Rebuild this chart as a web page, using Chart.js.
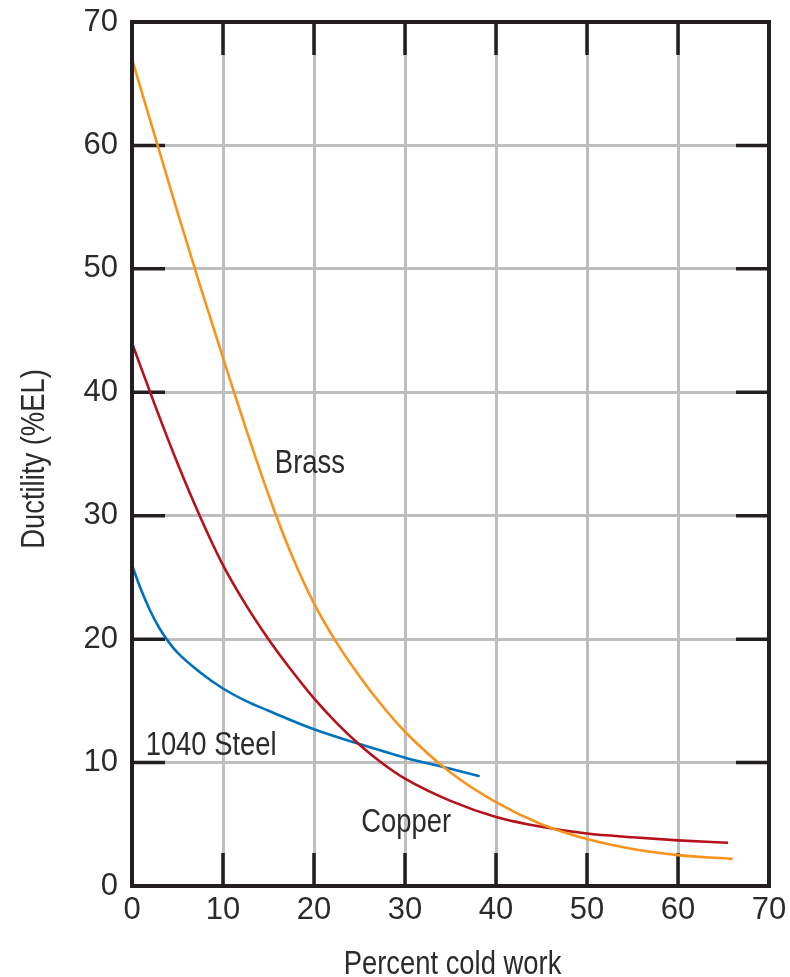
<!DOCTYPE html>
<html>
<head>
<meta charset="utf-8">
<script src="https://cdn.jsdelivr.net/npm/chart.js@4.4.1/dist/chart.umd.min.js"></script>
<style>
  html, body { margin: 0; padding: 0; background: #fff; }
  #wrap { width: 790px; height: 977px; position: relative; }
</style>
</head>
<body>
<div id="wrap"><canvas id="chart"></canvas></div>
<script>
// --- data (percent cold work vs %EL) ---
const brassX  = [0, 2.5, 5, 7.5, 10, 12.5, 15, 17.5, 20, 22.5, 25, 27.5, 30, 35, 40, 45, 50, 55, 60, 66];
const brassY  = [67, 60.8, 54.6, 48.6, 42.8, 37.1, 31.7, 26.9, 22.9, 19.7, 17.0, 14.6, 12.5, 9.2, 6.8, 5.0, 3.8, 3.0, 2.5, 2.2];
const copperX = [0, 2.5, 5, 7.5, 10, 12.5, 15, 17.5, 20, 22.5, 25, 27.5, 30, 35, 40, 45, 50, 55, 60, 65.5];
const copperY = [44, 39.0, 34.25, 29.9, 26.0, 22.8, 20.0, 17.5, 15.2, 13.2, 11.45, 9.95, 8.7, 6.9, 5.6, 4.8, 4.25, 3.95, 3.7, 3.5];
const steelX  = [0, 1, 2, 3, 4, 5, 7.5, 10, 12.5, 15, 20, 25, 30, 35, 38.2];
const steelY  = [26, 24, 22.3, 20.9, 19.8, 18.9, 17.3, 16.0, 15.0, 14.2, 12.7, 11.5, 10.4, 9.5, 8.9];

// curve labels (text, x, baseline y in data units)
const labelText = ['Brass', '1040 Steel', 'Copper'];
const labelX    = [15.7, 1.5, 25.2];
const labelY    = [33.5, 10.6, 4.4];

const xTitle = 'Percent cold work';
const yTitle = 'Ductility (%EL)';

const TEXT = '#2b2b2e';
const GRID = '#bcbec0';
const INK  = '#231f20';
const REG = '"Liberation Sans", Arial, sans-serif';
const SQUEEZE = 0.83;   // condensed look of the printed typeface

const toPts = (xs, ys) => xs.map((x, i) => ({ x: x, y: ys[i] }));

function narrowText(ctx, text, x, y, align) {
  ctx.save();
  ctx.translate(x, y);
  ctx.scale(SQUEEZE, 1);
  ctx.textAlign = align;
  ctx.fillText(text, 0, 0);
  ctx.restore();
}

// black inner tick marks + heavy frame, like the printed figure
const framePlugin = {
  id: 'frame',
  beforeDatasetsDraw(chart) {
    const { ctx, chartArea: a, scales: { x, y } } = chart;
    const len = 33;
    ctx.save();
    ctx.strokeStyle = INK;
    ctx.lineWidth = 3.5;
    ctx.beginPath();
    for (let v = 10; v < 70; v += 10) {
      const py = y.getPixelForValue(v);
      ctx.moveTo(a.left, py); ctx.lineTo(a.left + len, py);
      ctx.moveTo(a.right - len, py); ctx.lineTo(a.right, py);
      const px = x.getPixelForValue(v);
      ctx.moveTo(px, a.top); ctx.lineTo(px, a.top + len);
      ctx.moveTo(px, a.bottom - len); ctx.lineTo(px, a.bottom);
    }
    ctx.stroke();
    ctx.restore();
  },
  afterDatasetsDraw(chart) {
    const { ctx, chartArea: a } = chart;
    ctx.save();
    ctx.strokeStyle = INK;
    ctx.lineWidth = 4;
    ctx.strokeRect(a.left, a.top, a.right - a.left, a.bottom - a.top);
    ctx.restore();
  },
  afterDraw(chart) {
    const { ctx, chartArea: a, scales: { x, y } } = chart;
    ctx.save();
    ctx.fillStyle = TEXT;
    ctx.font = '33px ' + REG;
    ctx.textBaseline = 'alphabetic';
    labelText.forEach((t, i) => {
      narrowText(ctx, t, x.getPixelForValue(labelX[i]), y.getPixelForValue(labelY[i]), 'left');
    });
    // axis titles
    narrowText(ctx, xTitle, (a.left + a.right) / 2 + 2, 974, 'center');
    ctx.save();
    ctx.translate(44, (a.top + a.bottom) / 2 + 5);
    ctx.rotate(-Math.PI / 2);
    narrowText(ctx, yTitle, 0, 0, 'center');
    ctx.restore();
    ctx.restore();
  }
};

const tickFont = { family: REG, size: 31 };

function noPad(s) {
  s.paddingTop = 0; s.paddingBottom = 0; s.paddingLeft = 0; s.paddingRight = 0;
}

new Chart(document.getElementById('chart'), {
  type: 'line',
  data: {
    datasets: [
      { label: 'Brass', data: toPts(brassX, brassY), borderColor: '#f7941d' },
      { label: 'Copper', data: toPts(copperX, copperY), borderColor: '#b5121b' },
      { label: '1040 Steel', data: toPts(steelX, steelY), borderColor: '#0072bc' }
    ].map(d => Object.assign(d, {
      borderWidth: 2.6,
      pointRadius: 0,
      fill: false,
      cubicInterpolationMode: 'monotone'
    }))
  },
  options: {
    responsive: true,
    maintainAspectRatio: false,
    animation: false,
    layout: { padding: { top: 22, right: 21, left: 0, bottom: 0 } },
    plugins: { legend: { display: false }, tooltip: { enabled: false } },
    scales: {
      x: {
        type: 'linear', min: 0, max: 70,
        ticks: { stepSize: 10, color: TEXT, font: tickFont, padding: 6, maxRotation: 0 },
        grid: { color: GRID, lineWidth: 3, drawTicks: false },
        border: { display: false },
        afterFit(s) { s.height = 91; noPad(s); }
      },
      y: {
        min: 0, max: 70,
        ticks: { stepSize: 10, color: TEXT, font: tickFont, padding: 14 },
        grid: { color: GRID, lineWidth: 3, drawTicks: false },
        border: { display: false },
        afterFit(s) { s.width = 132; noPad(s); }
      }
    }
  },
  plugins: [framePlugin]
});
</script>
</body>
</html>
